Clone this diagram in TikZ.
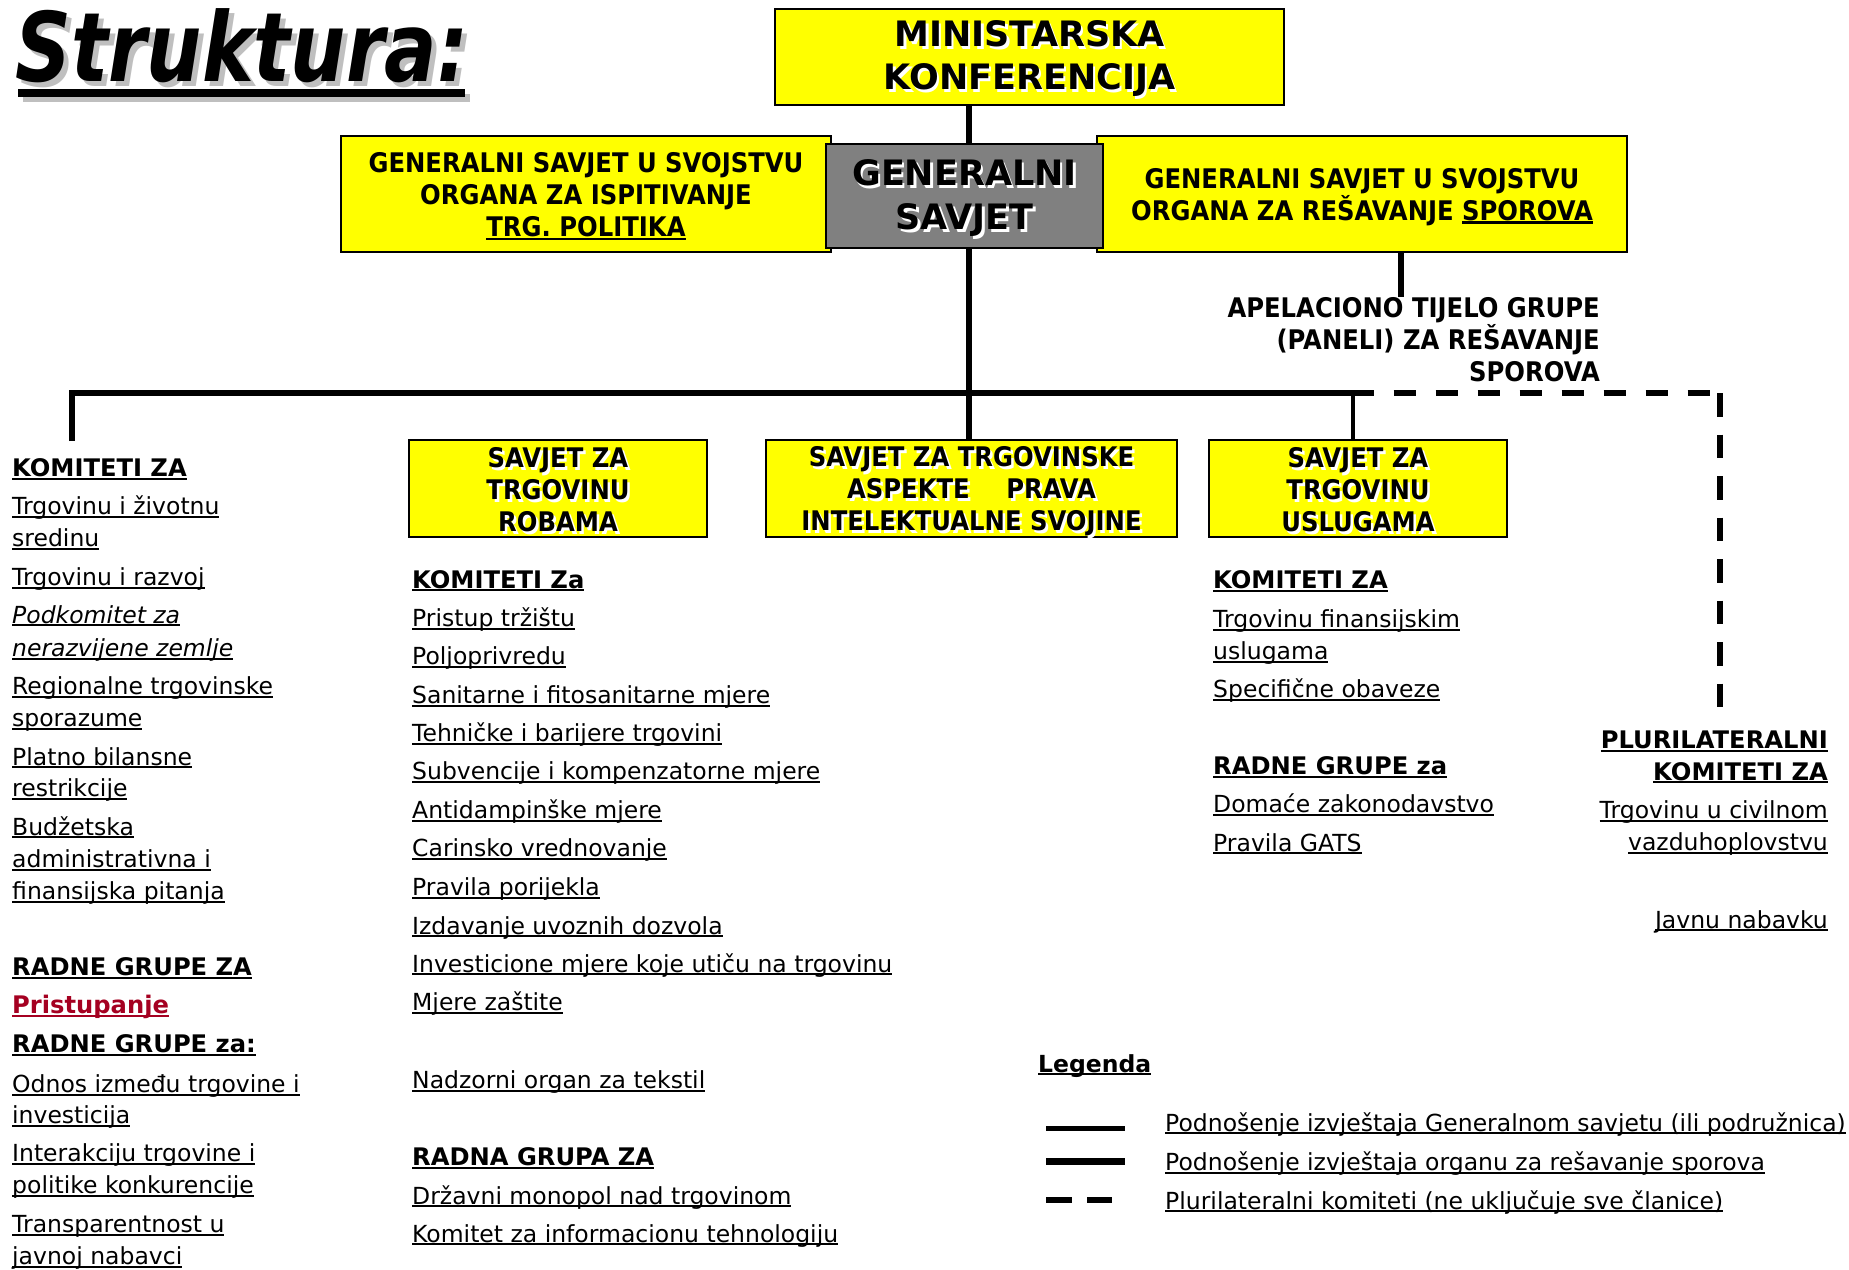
\documentclass[tikz,border=0pt]{standalone}
\usepackage{fontspec}
\usepackage{graphicx}
\setmainfont{DejaVu Sans}
\newfontfamily\cnd[FakeStretch=0.9]{DejaVu Sans}
\newfontfamily\ttlfont[FakeStretch=0.81]{DejaVu Sans}
\definecolor{ylw}{RGB}{255,255,0}
\definecolor{gsgray}{RGB}{128,128,128}
\definecolor{dred}{RGB}{165,0,33}
\newcommand\ulx[2][1.9]{\setbox0=\hbox{#2}\rlap{\rule[-3.2pt]{\wd0}{#1pt}}\box0}
\newcommand\shd[2][white]{\rlap{\hspace{2.5pt}\raisebox{-2.5pt}{\textcolor{#1}{#2}}}#2}
\tikzset{
  ybox/.style={draw=black, line width=2.8pt, fill=ylw, inner sep=0pt},
  btxt/.style={align=center, inner sep=0pt, font=\cnd\bfseries\fontsize{27}{32}\selectfont},
  lst/.style={anchor=base west, inner sep=0pt, font=\fontsize{23.5}{28}\selectfont},
  lstr/.style={anchor=base east, inner sep=0pt, font=\fontsize{23.5}{28}\selectfont},
  hdr/.style={anchor=base west, inner sep=0pt, font=\bfseries\fontsize{24.2}{28}\selectfont},
  hdrr/.style={anchor=base east, inner sep=0pt, font=\bfseries\fontsize{24.2}{28}\selectfont},
  ital/.style={anchor=base west, inner sep=0pt, font=\itshape\fontsize{23.5}{28}\selectfont},
  conn/.style={line width=6pt},
  barline/.style={line width=5.5pt},
  thinconn/.style={line width=4pt},
  pluri/.style={line width=5.5pt, dash pattern=on 22.5pt off 19.5pt, dash phase=22.5pt},
  pluriv/.style={line width=5.5pt, dash pattern=on 23.5pt off 18pt},
  ttlstyle/.style={anchor=base west, inner sep=0pt, font=\ttlfont\bfseries\itshape\fontsize{96}{100}\selectfont},
}
\begin{document}
\begin{tikzpicture}[x=1pt,y=-1pt]
\useasboundingbox (0,0) rectangle (1849,1269);
\fill[white] (0,0) rectangle (1849,1269);

% title
\node[ttlstyle] (ttl) at (15,81) {\rlap{\hspace{5pt}\raisebox{-5pt}{\textcolor{gray!50}{Struktura:}}}Struktura:};
\fill[gray!50] (23,94) rectangle (470,102);
\fill[black] (18,89) rectangle (465,97);

% top boxes
\node[ybox, minimum width=509pt, minimum height=96pt] (min) at (1029.5,57) {};
\node[btxt, font=\bfseries\fontsize{35}{43}\selectfont] (minT) at ([yshift=-3pt]min.center) {\shd{MINISTARSKA}\\\shd{KONFERENCIJA}};
\node[ybox, minimum width=490pt, minimum height=116pt] (isp) at (586,194) {};
\node[btxt] (ispT) at ([yshift=-2.5pt]isp.center) {GENERALNI SAVJET U SVOJSTVU\\ORGANA ZA ISPITIVANJE\\\ulx[2.6]{TRG. POLITIKA}};
\node[ybox, minimum width=530pt, minimum height=116pt] (res) at (1362,194) {};
\node[btxt] (resT) at ([yshift=-3.5pt]res.center) {GENERALNI SAVJET U SVOJSTVU\\ORGANA ZA RE\v{S}AVANJE \ulx[2.6]{SPOROVA}};
\node[draw=black, line width=2.8pt, fill=gsgray, minimum width=277pt, minimum height=104pt, inner sep=0pt] (gs) at (964.5,196) {};
\node[btxt, font=\bfseries\fontsize{35}{44}\selectfont] (gsT) at ([yshift=-3.5pt]gs.center) {\shd{GENERALNI}\\\shd{SAVJET}};

% council boxes
\node[ybox, minimum width=298pt, minimum height=97pt] (rob) at (558,488.5) {};
\node[btxt] (robT) at ([yshift=-2.5pt]rob.center) {\shd{SAVJET ZA}\\\shd{TRGOVINU}\\\shd{ROBAMA}};
\node[ybox, minimum width=411pt, minimum height=97pt] (trips) at (971.5,488.5) {};
\node[btxt] (tripsT) at ([yshift=-4pt]trips.center) {\shd{SAVJET ZA TRGOVINSKE}\\\shd{ASPEKTE\hspace{28pt} PRAVA}\\\shd{INTELEKTUALNE SVOJINE}};
\node[ybox, minimum width=298pt, minimum height=97pt] (usl) at (1358,488.5) {};
\node[btxt] (uslT) at ([yshift=-2.5pt]usl.center) {\shd{SAVJET ZA}\\\shd{TRGOVINU}\\\shd{USLUGAMA}};

% appellate body
\node[anchor=east, align=right, inner sep=0pt, font=\cnd\bfseries\fontsize{27}{32}\selectfont] (apel) at (1600,339.5) {APELACIONO TIJELO GRUPE\\(PANELI) ZA RE\v{S}AVANJE\\SPOROVA};

% connectors
\coordinate (tr) at (969,393);
\coordinate (kl) at (72,441);
\coordinate (br) at (1374,393);
\coordinate (ux) at (1353,393);
\coordinate (apx) at (1401,300);
\coordinate (dc) at (1720,393);
\coordinate (de) at (1720,708);
\draw[conn] (min.south -| tr) -- (gs.north -| tr);
\draw[conn] (gs.south -| tr) -- (trips.north -| tr);
\draw[barline] (kl) |- (br);
\draw[thinconn] (ux) -- (usl.north -| ux);
\draw[conn] (res.south -| apx) -- (apel.north -| apx);
\draw[pluri] (br) -- (dc);
\draw[pluriv] (dc) -- (de);

% left column
\node[hdr] (a0) at (12,476.5) {\ulx{KOMITETI ZA}};
\node[lst] (a1) at (12,514.5) {\ulx{Trgovinu i životnu}};
\node[lst] (a2) at (12,546.5) {\ulx{sredinu}};
\node[lst] (a3) at (12,585.5) {\ulx{Trgovinu i razvoj}};
\node[ital] (a4) at (12,623) {\ulx{Podkomitet za}};
\node[ital] (a5) at (12,656.5) {\ulx{nerazvijene zemlje}};
\node[lst] (a6) at (12,694.5) {\ulx{Regionalne trgovinske}};
\node[lst] (a7) at (12,726.5) {\ulx{sporazume}};
\node[lst] (a8) at (12,765) {\ulx{Platno bilansne}};
\node[lst] (a9) at (12,796.5) {\ulx{restrikcije}};
\node[lst] (a10) at (12,835) {\ulx{Budžetska}};
\node[lst] (a11) at (12,867.5) {\ulx{administrativna i}};
\node[lst] (a12) at (12,899.5) {\ulx{finansijska pitanja}};
\node[hdr] (a13) at (12,975.5) {\ulx{RADNE GRUPE ZA}};
\node[hdr, text=dred] (a14) at (12,1013.5) {\ulx{Pristupanje}};
\node[hdr] (a15) at (12,1052.5) {\ulx{RADNE GRUPE za:}};
\node[lst] (a16) at (12,1092.5) {\ulx{Odnos između trgovine i}};
\node[lst] (a17) at (12,1123.5) {\ulx{investicija}};
\node[lst] (a18) at (12,1161.5) {\ulx{Interakciju trgovine i}};
\node[lst] (a19) at (12,1193.5) {\ulx{politike konkurencije}};
\node[lst] (a20) at (12,1232.5) {\ulx{Transparentnost u}};
\node[lst] (a21) at (12,1264.5) {\ulx{javnoj nabavci}};

% middle column
\node[hdr] (b0) at (412,588) {\ulx{KOMITETI Za}};
\node[lst] (b1) at (412,626.5) {\ulx{Pristup tržištu}};
\node[lst] (b2) at (412,664.5) {\ulx{Poljoprivredu}};
\node[lst] (b3) at (412,703.5) {\ulx{Sanitarne i fitosanitarne mjere}};
\node[lst] (b4) at (412,741.5) {\ulx{Tehničke i barijere trgovini}};
\node[lst] (b5) at (412,779.5) {\ulx{Subvencije i kompenzatorne mjere}};
\node[lst] (b6) at (412,818.5) {\ulx{Antidampinške mjere}};
\node[lst] (b7) at (412,856.5) {\ulx{Carinsko vrednovanje}};
\node[lst] (b8) at (412,895.5) {\ulx{Pravila porijekla}};
\node[lst] (b9) at (412,934) {\ulx{Izdavanje uvoznih dozvola}};
\node[lst] (b10) at (412,972) {\ulx{Investicione mjere koje utiču na trgovinu}};
\node[lst] (b11) at (412,1010.5) {\ulx{Mjere zaštite}};
\node[lst] (b12) at (412,1088.5) {\ulx{Nadzorni organ za tekstil}};
\node[hdr] (b13) at (412,1165.5) {\ulx{RADNA GRUPA ZA}};
\node[lst] (b14) at (412,1204) {\ulx{Državni monopol nad trgovinom}};
\node[lst] (b15) at (412,1242) {\ulx{Komitet za informacionu tehnologiju}};

% right-middle column
\node[hdr] (c0) at (1213,588.5) {\ulx{KOMITETI ZA}};
\node[lst] (c1) at (1213,627.5) {\ulx{Trgovinu finansijskim}};
\node[lst] (c2) at (1213,659.5) {\ulx{uslugama}};
\node[lst] (c3) at (1213,697.5) {\ulx{Specifične obaveze}};
\node[hdr] (c4) at (1213,774.5) {\ulx{RADNE GRUPE za}};
\node[lst] (c5) at (1213,812.5) {\ulx{Domaće zakonodavstvo}};
\node[lst] (c6) at (1213,851) {\ulx{Pravila GATS}};

% right column
\node[hdrr] (d0) at (1828,748.5) {\ulx{PLURILATERALNI}};
\node[hdrr] (d1) at (1828,780) {\ulx{KOMITETI ZA}};
\node[lstr] (d2) at (1828,818.5) {\ulx{Trgovinu u civilnom}};
\node[lstr] (d3) at (1828,850.5) {\ulx{vazduhoplovstvu}};
\node[lstr] (d4) at (1828,928) {\ulx{Javnu nabavku}};

% legend
\node[hdr, font=\bfseries\fontsize{23.5}{28}\selectfont] (leg) at (1038,1072) {\ulx{Legenda}};
\coordinate (g1a) at (1046,1128); \coordinate (g1b) at (1125,1128);
\coordinate (g2a) at (1046,1161); \coordinate (g2b) at (1125,1161);
\coordinate (g3a) at (1046,1200); \coordinate (g3b) at (1112,1200);
\draw[line width=5pt] (g1a) -- (g1b);
\draw[line width=7pt] (g2a) -- (g2b);
\draw[line width=5.5pt, dash pattern=on 26pt off 15pt] (g3a) -- (g3b);
\node[lst] (e1) at (1165,1131) {\ulx{Podnošenje izvještaja Generalnom savjetu (ili podružnica)}};
\node[lst] (e2) at (1165,1170.5) {\ulx{Podnošenje izvještaja organu za rešavanje sporova}};
\node[lst] (e3) at (1165,1209) {\ulx{Plurilateralni komiteti (ne uključuje sve članice)}};
\end{tikzpicture}
\end{document}
